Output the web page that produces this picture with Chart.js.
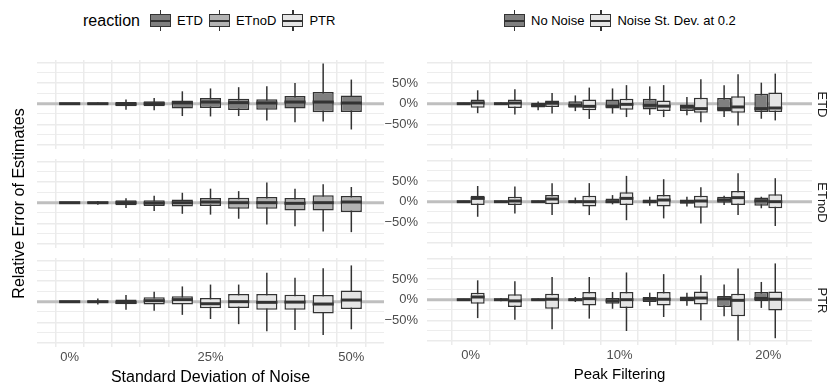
<!DOCTYPE html>
<html>
<head>
<meta charset="utf-8">
<title>Relative Error of Estimates</title>
<script src="https://cdn.jsdelivr.net/npm/chart.js@4/dist/chart.umd.min.js"></script>
<style>
  html, body { margin: 0; padding: 0; background: #fff; }
  body { width: 831px; height: 383px; overflow: hidden; position: relative;
         font-family: "Liberation Sans", Arial, Helvetica, sans-serif; }
  canvas { position: absolute; }
  .legend { position: absolute; top: 10px; height: 21px; display: flex; align-items: center;
            font-size: 13px; color: #000; white-space: nowrap; }
  .legend .ttl { font-size: 16px; margin-right: 10px; }
  .legend .lab { margin-right: 6px; }
  .key { position: relative; width: 21px; height: 21px; margin-right: 6px; flex: none; }
  .key i { position: absolute; display: block; }
  .key .wh { left: 9.75px; top: 0; width: 1.5px; height: 21px; background: #333; }
  .key .bx { left: 0; top: 4px; width: 21px; height: 13px; box-sizing: border-box; border: 1.5px solid #333; }
  .key .md { left: 0; top: 9.5px; width: 21px; height: 2px; background: #333; }
</style>
</head>
<body>
<div class="legend" id="legendLeft" style="left:83px"></div>
<div class="legend" id="legendRight" style="left:504px"></div>
<script>
// categories and tick labels
const noiseLevels = ['0%', '5%', '10%', '15%', '20%', '25%', '30%', '35%', '40%', '45%', '50%'];
const noiseTicks = ['0%', '25%', '50%'];
const peakLevels = ['0%', '2.5%', '5%', '7.5%', '10%', '12.5%', '15%', '17.5%', '20%'];
const peakTicks = ['0%', '10%', '20%'];
const reactions = ['ETD', 'ETnoD', 'PTR'];
const noiseGroups = ['No Noise', 'Noise St. Dev. at 0.2'];
const yBreaks = [-100, -75, -50, -25, 0, 25, 50, 75, 100];
const yLabelled = [-50, 0, 50];
const yMin = -110, yMax = 106;

// box stats per category: [lower whisker, q1, median, q3, upper whisker], in %
const noiseETD = [[-1.5, -1, 0, 1, 1.5], [-3, -1.5, 0, 1.5, 3], [-15, -6.5, -1, 4, 10], [-16, -6.5, 0, 6, 14],
  [-30, -12, 2, 8, 30], [-31, -10.5, 4, 14, 37], [-30, -15.5, 2.5, 12, 40], [-41, -14.6, 1.6, 10.5, 42],
  [-45, -12, 4, 18.7, 50], [-43, -21, 4, 28.5, 97.6], [-62.6, -20, 1.6, 20, 58.5]];
const noiseETnoD = [[-1.5, -1, 0, 1, 1.5], [-5, -1.5, 0, 1.5, 4], [-13, -6.5, 0, 5.7, 11], [-20, -8, -1, 5.7, 17],
  [-27, -9, 0, 8, 24], [-29, -8, 1.6, 11.4, 34], [-39, -14.6, 0, 12, 28], [-53, -14.6, 0, 14, 49],
  [-57, -18.7, -1.6, 11.4, 34], [-70, -18.7, 0, 18, 45], [-71.5, -22.8, 1.6, 16, 38]];
const noisePTR = [[-1.5, -1, 0, 1, 1.5], [-7, -2, 0, 2.5, 8], [-19.5, -6.5, -1.6, 5, 16], [-22, -7, 2.4, 10.5, 24],
  [-32, -7, 5, 13, 37], [-42, -16, -5, 9, 41.5], [-54.5, -15.4, 0, 18.7, 41.5], [-72, -19.5, -1.6, 18.7, 70],
  [-69, -19.5, -1, 17, 58], [-81, -28.5, -5.7, 16, 81], [-67, -18, 4, 27, 88]];

const peakETDNone = [[-2, -1, 0, 1, 2], [-3, -1.5, 0, 1.5, 3], [-16, -9, -4, 2, 5], [-18, -10, -4, 5.7, 20],
  [-24, -12, -6, 10, 37], [-27, -14, -4, 12, 42], [-28, -18, -8, 0, 16], [-32.5, -19, -12, 14, 45],
  [-36.6, -20, -12, 24, 51]];
const peakETDNoise = [[-23, -10, 2, 10, 32.5], [-26, -10.5, 1.6, 10, 35], [-24, -8, 1, 8, 26], [-37, -16, -6.5, 10, 39],
  [-32.5, -15, -1.6, 12, 45], [-32.5, -18, -6, 8, 45], [-45, -22, -12, 14.6, 59], [-53, -22, -8, 18, 71.5],
  [-40.6, -20, -10.5, 27, 73]];
const peakETnoDNone = [[-2, -1, 0, 1, 2], [-2, -1, 0, 1, 2], [-2, -1, 0, 1, 2], [-4, -2, 0, 2, 10],
  [-6.5, -4, 0, 8, 16], [-10, -4, 0, 5, 12], [-12, -5, 0, 5, 12], [-8, -2.4, 4, 12, 14.6],
  [-16, -10, 2, 10, 12]];
const peakETnoDNoise = [[-36.6, -8, 8, 14.6, 38], [-28.5, -8, 1.6, 12, 36.6], [-32.5, -6.5, 6.5, 16, 45],
  [-32.5, -12, 0, 14.6, 45], [-45, -8, 8, 23, 62.6], [-40.6, -12, 4, 16, 54.5], [-53, -14.6, 1.6, 14.6, 35],
  [-32.5, -8, 9.8, 26, 69], [-59, -16, 0, 18, 57]];
const peakPTRNone = [[-2, -1, 0, 1, 2], [-4, -1.5, 0, 1.5, 4], [-3, -1.5, 0, 1.5, 3], [-5.7, -3, 0, 3, 6.5],
  [-22, -10, -3, 4, 18.7], [-15, -5.7, 1, 6.5, 17], [-15, -4, 2.4, 8, 17], [-40, -18, 2, 9, 37],
  [-20, -4, 3, 18.7, 43]];
const peakPTRNoise = [[-44.7, -10, 6.5, 17, 47], [-49, -18, -3, 13, 44.7], [-72, -22, 1, 14.6, 55],
  [-46, -14, 2.4, 18.7, 55], [-76, -20, 0, 18.7, 66], [-42, -14, 1, 18.7, 62], [-50, -12, 4, 20, 59],
  [-99, -40, -1.6, 14.6, 75.6], [-93.5, -26, 1, 20, 88]];

// fills
const reactionFill = ['#7f7f7f', '#b3b3b3', '#e5e5e5'];
const groupFill = ['#7f7f7f', '#e5e5e5'];
const ink = '#333333';

Chart.defaults.font.family = '"Liberation Sans", Arial, Helvetica, sans-serif';

const pct = v => (v < 0 ? '\u2212' + Math.abs(v) : v) + '%';

// zero line + whiskers under the boxes, medians on top
const boxPlugin = {
  id: 'boxes',
  beforeDatasetsDraw(chart) {
    const ctx = chart.ctx, y = chart.scales.y, area = chart.chartArea;
    ctx.save();
    ctx.strokeStyle = '#bfbfbf';
    ctx.lineWidth = 3;
    const y0 = y.getPixelForValue(0);
    ctx.beginPath(); ctx.moveTo(area.left, y0); ctx.lineTo(area.right, y0); ctx.stroke();
    ctx.strokeStyle = ink;
    ctx.lineWidth = 1.5;
    chart.data.datasets.forEach((ds, i) => {
      chart.getDatasetMeta(i).data.forEach((bar, j) => {
        const s = ds.stats[j];
        ctx.beginPath();
        ctx.moveTo(bar.x, y.getPixelForValue(s[4]));
        ctx.lineTo(bar.x, y.getPixelForValue(s[0]));
        ctx.stroke();
      });
    });
    ctx.restore();
  },
  afterDatasetsDraw(chart) {
    const ctx = chart.ctx, y = chart.scales.y;
    ctx.save();
    ctx.strokeStyle = ink;
    ctx.lineWidth = 3;
    chart.data.datasets.forEach((ds, i) => {
      chart.getDatasetMeta(i).data.forEach((bar, j) => {
        const ym = y.getPixelForValue(ds.stats[j][2]);
        ctx.beginPath();
        ctx.moveTo(bar.x - bar.width / 2, ym);
        ctx.lineTo(bar.x + bar.width / 2, ym);
        ctx.stroke();
      });
    });
    ctx.restore();
  }
};

function makeFacet(o) {
  const c = document.createElement('canvas');
  c.width = o.width; c.height = o.height;
  c.style.left = o.left + 'px'; c.style.top = o.top + 'px';
  document.body.appendChild(c);
  const n = o.levels.length;
  const scales = {
    x: {
      type: 'linear', min: -0.6, max: n - 0.4,
      afterBuildTicks: s => { s.ticks = o.levels.map((_, i) => ({ value: i })); },
      afterFit: s => { s.height = o.xHeight; s.paddingLeft = s.paddingRight = 0; },
      border: { display: false },
      grid: { color: '#ebebeb', lineWidth: 1.5, drawTicks: false },
      ticks: {
        display: o.xHeight > 0, autoSkip: false, maxRotation: 0, padding: 3,
        color: '#4d4d4d', font: { size: 13 },
        callback: v => o.tickLabels.includes(o.levels[v]) ? o.levels[v] : ''
      },
      title: {
        display: !!o.xTitle, text: o.xTitle || '', color: '#000',
        font: { size: o.xTitleSize || 16 }, padding: { top: 0, bottom: o.xTitlePad || 0 }
      }
    },
    y: {
      min: yMin, max: yMax,
      afterBuildTicks: s => { s.ticks = yBreaks.map(v => ({ value: v })); },
      afterFit: s => { s.width = o.yWidth; s.paddingTop = s.paddingBottom = 0; },
      border: { display: false },
      grid: {
        color: '#ebebeb', drawTicks: false,
        lineWidth: c => (c.tick && c.tick.value % 50 === 0) ? 1.4 : 0.9
      },
      ticks: {
        display: !!o.yLabels, autoSkip: false, padding: 9, color: '#4d4d4d', font: { size: 13 },
        callback: v => yLabelled.includes(v) ? pct(v) : ''
      },
      title: {
        display: !!o.yTitle, text: o.yTitle || '', color: '#000',
        font: { size: 16 }, padding: { top: 10, bottom: 0 }
      }
    }
  };
  if (o.strip) {
    scales.strip = {
      type: 'linear', position: 'right',
      afterFit: s => { s.width = 19; s.paddingTop = s.paddingBottom = 0; },
      border: { display: false },
      grid: { display: false },
      ticks: { display: false },
      title: { display: true, text: o.strip, color: '#1a1a1a', font: { size: 13 }, padding: { top: 2, bottom: 0 } }
    };
  }
  return new Chart(c, {
    type: 'bar',
    data: {
      datasets: o.series.map(s => ({
        data: s.stats.map((b, i) => ({ x: i, y: [b[1], b[3]] })),
        stats: s.stats,
        backgroundColor: s.fill,
        borderColor: ink,
        borderWidth: 1.5,
        borderSkipped: false,
        categoryPercentage: 0.75,
        barPercentage: 1
      }))
    },
    plugins: [boxPlugin],
    options: {
      responsive: false,
      animation: false,
      layout: { padding: { left: 0, right: o.padRight || 0, top: o.padTop || 0, bottom: o.padBottom || 0 } },
      plugins: { legend: { display: false }, tooltip: { enabled: false } },
      scales: scales
    }
  });
}

// left panel: noise level, one reaction per facet
const noiseStats = [noiseETD, noiseETnoD, noisePTR];
const leftTops = [60, 159, 258];
noiseStats.forEach((stats, k) => {
  const last = k === 2, mid = k === 1;
  // the middle facet's canvas spans the whole column so the long y title fits
  makeFacet({
    left: 0, top: mid ? 60 : leftTops[k], width: 390, height: last ? 132 : (mid ? 287 : 89), padRight: 6,
    padTop: mid ? 99 : 0, padBottom: mid ? 99 : 0,
    levels: noiseLevels, tickLabels: noiseTicks,
    series: [{ stats: stats, fill: reactionFill[k] }],
    yWidth: 37, yLabels: false, yTitle: mid ? 'Relative Error of Estimates' : null,
    xHeight: last ? 43 : 0, xTitle: last ? 'Standard Deviation of Noise' : null, xTitleSize: 16, xTitlePad: 3
  });
});

// right panel: peak filtering, no noise vs noise 0.2
const peakStats = [[peakETDNone, peakETDNoise], [peakETnoDNone, peakETnoDNoise], [peakPTRNone, peakPTRNoise]];
const rightTops = [60, 158, 256];
peakStats.forEach((pair, k) => {
  const last = k === 2;
  makeFacet({
    left: 380, top: rightTops[k], width: 451, height: last ? 134 : 89,
    levels: peakLevels, tickLabels: peakTicks,
    series: pair.map((stats, g) => ({ stats: stats, fill: groupFill[g] })),
    yWidth: 47, yLabels: true, strip: reactions[k],
    xHeight: last ? 45 : 0, xTitle: last ? 'Peak Filtering' : null, xTitleSize: 15, xTitlePad: 6
  });
});

// legends
function addKey(parent, fill, label) {
  const k = document.createElement('span');
  k.className = 'key';
  k.innerHTML = '<i class="wh"></i><i class="bx" style="background:' + fill + '"></i><i class="md"></i>';
  parent.appendChild(k);
  const t = document.createElement('span');
  t.className = 'lab';
  t.textContent = label;
  parent.appendChild(t);
}
const legL = document.getElementById('legendLeft');
const ttl = document.createElement('span');
ttl.className = 'ttl';
ttl.textContent = 'reaction';
legL.appendChild(ttl);
reactions.forEach((r, i) => addKey(legL, reactionFill[i], r));
const legR = document.getElementById('legendRight');
noiseGroups.forEach((g, i) => addKey(legR, groupFill[i], g));
</script>
</body>
</html>
